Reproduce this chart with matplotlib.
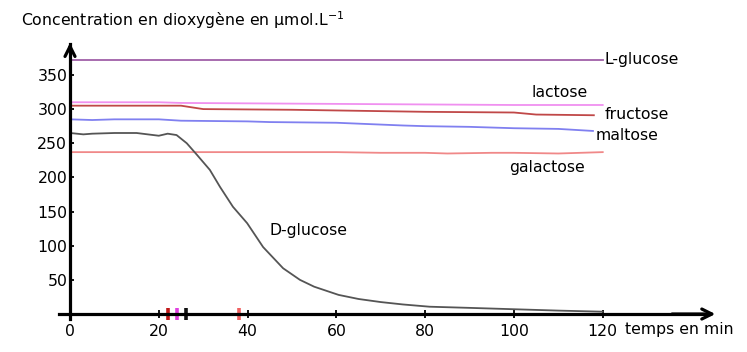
import numpy as np
import matplotlib
matplotlib.use("Agg")
import matplotlib.pyplot as plt

plt.rcParams['font.family'] = ['DejaVu Sans']

# temps (min) et concentrations (µmol/L)
t_lglu = [0, 120]
o2_lglu = [372, 372]

t_lac = [0, 20, 25, 50, 75, 100, 120]
o2_lac = [310, 310, 309, 308, 307, 306, 306]

t_fru = [0, 25, 30, 50, 60, 80, 100, 105, 118]
o2_fru = [305, 305, 300, 299, 298, 296, 295, 292, 291]

t_mal = [0, 5, 10, 20, 25, 40, 45, 60, 75, 80, 90, 100, 110, 117.8]
o2_mal = [285, 284, 285, 285, 283, 282, 281, 280, 276, 275, 274, 272, 271, 268]

t_gal = [0, 60, 70, 80, 85, 95, 100, 110, 120]
o2_gal = [237, 237, 236, 236, 235, 236, 236, 235, 237]

t_dglu = [0, 3, 5, 10, 15, 20, 22, 24, 26.3, 28.6, 31.5, 33.8, 36.7, 39.9, 43.5,
          48, 51.8, 55, 60.5, 65, 70, 75, 81, 90, 100, 110, 120]
o2_dglu = [265, 263, 264, 265, 265, 261, 264, 262, 250, 233, 211, 186, 157, 133, 98,
           67, 50, 40, 28, 22, 17.5, 14, 10.7, 9, 7, 5, 3.4]

marks_t = [22.1, 24.1, 26.1, 38.1]
marks_c = ['#c01818', '#e040e0', '#111111', '#f06060']

xticks = [0, 20, 40, 60, 80, 100, 120]
yticks = [50, 100, 150, 200, 250, 300, 350]

fig = plt.figure(figsize=(7.47, 3.52), dpi=100)
ax = fig.add_axes([0, 0, 1, 1])
ax.set_xlim(-15.77, 152.5)
ax.set_ylim(-55.6, 459.7)

ax.plot(t_lglu, o2_lglu, color='#a060a8', lw=1.3)
ax.plot(t_lac, o2_lac, color='#f090f0', lw=1.3)
ax.plot(t_fru, o2_fru, color='#c04848', lw=1.3)
ax.plot(t_mal, o2_mal, color='#8080f0', lw=1.3)
ax.plot(t_gal, o2_gal, color='#f08888', lw=1.3)
ax.plot(t_dglu, o2_dglu, color='#555555', lw=1.3)

# axes avec flèches
for s in ['top', 'right']:
    ax.spines[s].set_visible(False)
ax.spines['left'].set_position(('data', 0))
ax.spines['bottom'].set_position(('data', 0))
ax.spines['left'].set_bounds(-8, 395)
ax.spines['bottom'].set_bounds(-2.5, 144)
ax.spines['left'].set_linewidth(2.3)
ax.spines['bottom'].set_linewidth(2.3)
ax.annotate('', xy=(0, 401), xytext=(0, 380),
            arrowprops=dict(arrowstyle='->', lw=2.3, color='black', mutation_scale=18))
ax.annotate('', xy=(146, 0), xytext=(135, 0),
            arrowprops=dict(arrowstyle='->', lw=2.3, color='black', mutation_scale=18))

fs = 11.3
ax.set_xticks(xticks)
ax.set_yticks(yticks)
ax.tick_params(axis='x', direction='inout', length=6, width=1.3, pad=4, labelsize=fs)
ax.tick_params(axis='y', direction='in', length=3, width=1.3, pad=2, labelsize=fs)
ax.set_xticklabels([str(v) for v in xticks])
ax.set_yticklabels([str(v) for v in yticks])

for tm, c in zip(marks_t, marks_c):
    ax.plot([tm], [0], marker='|', ms=9, mew=2.6, color=c)

ax.text(120.5, 372, 'L-glucose', fontsize=fs, va='center', ha='left')
ax.text(104, 325, 'lactose', fontsize=fs, va='center', ha='left')
ax.text(120.5, 292, 'fructose', fontsize=fs, va='center', ha='left')
ax.text(118.5, 262, 'maltose', fontsize=fs, va='center', ha='left')
ax.text(99, 214, 'galactose', fontsize=fs, va='center', ha='left')
ax.text(45, 122, 'D-glucose', fontsize=fs, va='center', ha='left')
ax.text(125, -23, 'temps en min', fontsize=fs, va='center', ha='left')
ax.text(-11, 430, 'Concentration en dioxygène en µmol.L$^{-1}$', fontsize=fs,
        va='center', ha='left')

fig.savefig('out.png', dpi=100)
